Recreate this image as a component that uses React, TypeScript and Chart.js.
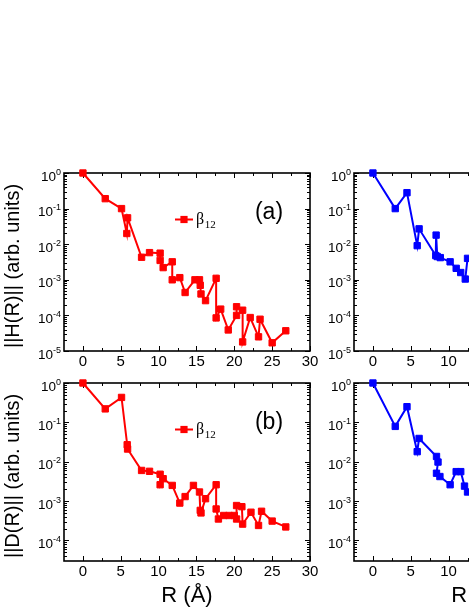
import React, { useEffect, useRef } from 'react';
import { Chart, registerables } from 'chart.js';

Chart.register(...registerables);

// ---------------- data ----------------
// (a) left: ||H(R)||, red beta_12
const hRedR = [0, 2.95, 5.1, 5.8, 5.9, 7.75, 8.8, 10.2, 10.2, 10.6, 11.8, 11.8, 12.8, 13.5, 14.8, 15.4, 15.5, 15.6, 16.2, 17.6, 17.6, 18.2, 19.2, 20.3, 20.3, 21.1, 21.1, 22.1, 23.2, 23.4, 25.0, 26.8];
const hRedV = [1, 0.19, 0.1, 0.02, 0.055, 0.0043, 0.0058, 0.0056, 0.0035, 0.0022, 0.0032, 0.001, 0.00115, 0.00044, 0.001, 0.001, 0.0007, 0.0004, 0.00026, 0.0011, 8.5e-5, 1.5e-4, 3.9e-5, 1.0e-4, 1.75e-4, 1.4e-4, 1.8e-5, 8.7e-5, 2.5e-5, 7.8e-5, 1.7e-5, 3.7e-5];

// (b) left: ||D(R)||, red beta_12
const dRedR = [0, 2.95, 5.1, 5.85, 5.9, 7.75, 8.8, 10.2, 10.2, 10.6, 11.8, 12.8, 13.5, 14.6, 15.4, 15.5, 15.6, 16.2, 17.6, 17.6, 17.9, 18.6, 19.3, 20.0, 20.3, 20.3, 21.0, 21.1, 22.2, 23.2, 23.6, 25.0, 26.8];
const dRedV = [1, 0.22, 0.43, 0.027, 0.021, 0.006, 0.0057, 0.0048, 0.0026, 0.0037, 0.0025, 0.00089, 0.0013, 0.0025, 0.0017, 0.00058, 0.0005, 0.00115, 0.0026, 0.00063, 0.00035, 0.00043, 0.00043, 0.00043, 0.00035, 0.00077, 0.00072, 0.00026, 0.00052, 0.00024, 0.00055, 0.00031, 0.00022];

// right panels (blue), only the visible part
const hBlueR = [0, 2.95, 4.5, 5.85, 6.1, 8.3, 8.35, 8.5, 8.9, 10.2, 11.0, 11.6, 12.2, 12.5];
const hBlueV = [1, 0.1, 0.28, 0.0091, 0.027, 0.0048, 0.018, 0.0045, 0.0042, 0.0032, 0.0021, 0.0016, 0.00105, 0.004];

const dBlueR = [0, 2.95, 4.5, 5.85, 6.1, 8.4, 8.6, 8.4, 8.85, 10.2, 11.0, 11.6, 12.1, 12.5];
const dBlueV = [1, 0.079, 0.25, 0.018, 0.039, 0.0136, 0.0098, 0.0051, 0.0042, 0.0026, 0.0056, 0.0056, 0.0024, 0.0017];

// axes
const xRange = [-2.5, 30];
const xMajorTicks = [0, 5, 10, 15, 20, 25, 30];
const xMinorTicks = [2.5, 7.5, 12.5, 17.5, 22.5, 27.5];
const topYRange = [1e-5, 1];
const botYRange = [3e-5, 1];
const topExps = [0, -1, -2, -3, -4, -5];
const botExps = [0, -1, -2, -3, -4];

const legendLabel = 'β';
const legendSub = '12';
const hTitle = '||H(R)|| (arb. units)';
const dTitle = '||D(R)|| (arb. units)';
const xTitle = 'R (Å)';

// ---------------- layout ----------------
const FIG_W = 720;
const FIG_H = 607;
const SANS = '"Liberation Sans", Arial, Helvetica, sans-serif';
const SERIF = '"Liberation Serif", "Times New Roman", serif';

const framePlugin = {
  id: 'frame',
  beforeDatasetsDraw(chart: any, _args: any, o: any) {
    const { ctx, chartArea: a } = chart;
    const xs = chart.scales.x;
    const ys = chart.scales.y;
    ctx.save();
    ctx.strokeStyle = '#000';
    ctx.fillStyle = '#000';
    ctx.lineWidth = 1;
    const vtick = (v: number, len: number) => {
      const px = Math.round(xs.getPixelForValue(v)) + 0.5;
      ctx.beginPath();
      ctx.moveTo(px, a.bottom);
      ctx.lineTo(px, a.bottom - len);
      ctx.moveTo(px, a.top);
      ctx.lineTo(px, a.top + len);
      ctx.stroke();
    };
    const htick = (v: number, len: number) => {
      const py = Math.round(ys.getPixelForValue(v)) + 0.5;
      ctx.beginPath();
      ctx.moveTo(a.left, py);
      ctx.lineTo(a.left + len, py);
      ctx.moveTo(a.right, py);
      ctx.lineTo(a.right - len, py);
      ctx.stroke();
    };
    o.xMajor.forEach((v: number) => vtick(v, 5));
    o.xMinor.forEach((v: number) => vtick(v, 3));
    const yMin = ys.min;
    const yMax = ys.max;
    const eLo = Math.floor(Math.log10(yMin));
    const eHi = Math.ceil(Math.log10(yMax));
    for (let e = eLo; e < eHi; e++) {
      for (let k = 2; k <= 9; k++) {
        const v = k * Math.pow(10, e);
        if (v > yMin * 1.001 && v < yMax * 0.999) htick(v, 3);
      }
    }
    o.exps.forEach((e: number) => htick(Math.pow(10, e), 5));

    ctx.lineWidth = 1.6;
    ctx.strokeRect(a.left, a.top, a.right - a.left, a.bottom - a.top);

    // x tick labels
    ctx.font = '15px ' + SANS;
    ctx.textAlign = 'center';
    ctx.textBaseline = 'alphabetic';
    o.xMajor.forEach((v: number) => {
      ctx.fillText(String(v), xs.getPixelForValue(v), a.bottom + 14.5);
    });

    // y tick labels 10^e
    o.exps.forEach((e: number) => {
      const py = ys.getPixelForValue(Math.pow(10, e));
      const base = '10';
      const ex = String(e);
      ctx.font = '13.5px ' + SANS;
      const wb = ctx.measureText(base).width;
      ctx.font = '9px ' + SANS;
      const we = ctx.measureText(ex).width;
      const xr = a.left - 3;
      ctx.textAlign = 'left';
      ctx.font = '13.5px ' + SANS;
      ctx.fillText(base, xr - we - wb, py + 7.5);
      ctx.font = '9px ' + SANS;
      ctx.fillText(ex, xr - we, py + 1.5);
    });

    // y title
    ctx.save();
    ctx.translate(a.left - 51, (a.top + a.bottom) / 2 + 4);
    ctx.rotate(-Math.PI / 2);
    ctx.font = '20px ' + SANS;
    ctx.textAlign = 'center';
    ctx.textBaseline = 'middle';
    ctx.fillText(o.yTitle, 0, 0);
    ctx.restore();

    // x title
    if (o.xTitle) {
      ctx.font = '22px ' + SANS;
      ctx.textAlign = 'center';
      ctx.textBaseline = 'alphabetic';
      ctx.fillText(o.xTitle, (a.left + a.right) / 2, a.bottom + 40.5);
    }

    // panel tag
    if (o.tag) {
      ctx.font = '23px ' + SANS;
      ctx.textAlign = 'center';
      ctx.textBaseline = 'middle';
      ctx.fillText(o.tag, a.left + 205, a.top + 40);
    }

    // legend
    if (o.legend) {
      const ds = chart.data.datasets[0];
      const ly = a.top + 46.5;
      ctx.strokeStyle = ds.borderColor;
      ctx.lineWidth = ds.borderWidth;
      ctx.beginPath();
      ctx.moveTo(a.left + 111, ly);
      ctx.lineTo(a.left + 129, ly);
      ctx.stroke();
      ctx.fillStyle = ds.backgroundColor;
      ctx.fillRect(a.left + 120 - 3.6, ly - 3.6, 7.2, 7.2);
      ctx.fillStyle = '#000';
      ctx.textAlign = 'left';
      ctx.textBaseline = 'alphabetic';
      ctx.font = '16px ' + SERIF;
      ctx.fillText(legendLabel, a.left + 132, a.top + 51);
      const wb = ctx.measureText(legendLabel).width;
      ctx.font = '11px ' + SERIF;
      ctx.fillText(legendSub, a.left + 132 + wb + 0.5, a.top + 55);
    }
    ctx.restore();
  },
};

type PanelProps = {
  rs: number[];
  vs: number[];
  color: string;
  box: number[]; // left, right, top, bottom
  yRange: number[];
  exps: number[];
  yTitle: string;
  xTitle?: string;
  tag?: string;
  legend?: boolean;
};

function Panel(p: PanelProps) {
  const ref = useRef<HTMLCanvasElement | null>(null);
  useEffect(() => {
    if (!ref.current) return;
    const [l, r, t, b] = p.box;
    const chart = new Chart(ref.current, {
      type: 'scatter',
      data: {
        datasets: [
          {
            label: legendLabel + legendSub,
            data: p.rs.map((x, i) => ({ x, y: p.vs[i] })),
            showLine: true,
            borderColor: p.color,
            backgroundColor: p.color,
            borderWidth: 2,
            tension: 0,
            pointStyle: 'rect',
            pointRadius: 4.5,
            pointBorderWidth: 1,
            pointBackgroundColor: p.color,
            pointBorderColor: p.color,
            clip: false as any,
          } as any,
        ],
      },
      options: {
        responsive: false,
        animation: false,
        devicePixelRatio: 1,
        events: [],
        layout: { padding: { left: l, right: FIG_W - r, top: t, bottom: FIG_H - b } },
        scales: {
          x: { type: 'linear', min: xRange[0], max: xRange[1], display: false },
          y: { type: 'logarithmic', min: p.yRange[0], max: p.yRange[1], display: false },
        },
        plugins: {
          legend: { display: false },
          tooltip: { enabled: false },
          frame: {
            xMajor: xMajorTicks,
            xMinor: xMinorTicks,
            exps: p.exps,
            yTitle: p.yTitle,
            xTitle: p.xTitle || '',
            tag: p.tag || '',
            legend: !!p.legend,
          },
        } as any,
      },
      plugins: [framePlugin as any],
    });
    return () => chart.destroy();
  }, []);
  return (
    <canvas
      ref={ref}
      width={FIG_W}
      height={FIG_H}
      style={{ position: 'absolute', left: 0, top: 0, width: FIG_W, height: FIG_H }}
    />
  );
}

const LEFT = [64, 310];
const RIGHT = [354, 600];
const TOP = [173, 351];
const BOT = [383, 561];

export default function App() {
  return (
    <div
      style={{
        position: 'fixed',
        left: 0,
        top: 0,
        width: 469,
        height: 607,
        overflow: 'hidden',
        background: '#fff',
      }}
    >
      <Panel rs={hRedR} vs={hRedV} color="#ff0000" box={[...LEFT, ...TOP]} yRange={topYRange} exps={topExps} yTitle={hTitle} tag="(a)" legend />
      <Panel rs={dRedR} vs={dRedV} color="#ff0000" box={[...LEFT, ...BOT]} yRange={botYRange} exps={botExps} yTitle={dTitle} xTitle={xTitle} tag="(b)" legend />
      <Panel rs={hBlueR} vs={hBlueV} color="#0000ff" box={[...RIGHT, ...TOP]} yRange={topYRange} exps={topExps} yTitle="" />
      <Panel rs={dBlueR} vs={dBlueV} color="#0000ff" box={[...RIGHT, ...BOT]} yRange={botYRange} exps={botExps} yTitle="" xTitle={xTitle} />
    </div>
  );
}
